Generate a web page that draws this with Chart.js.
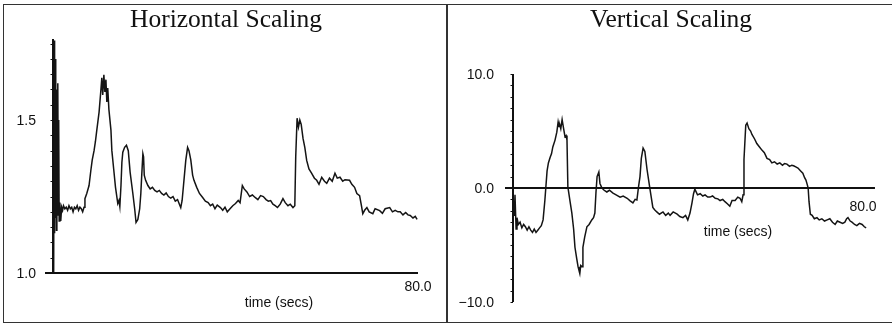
<!DOCTYPE html>
<html>
<head>
<meta charset="utf-8">
<script src="https://cdn.jsdelivr.net/npm/chart.js@4.4.1/dist/chart.umd.min.js"></script>
<style>
  html, body { margin: 0; padding: 0; background: #fff; }
  body { width: 892px; height: 326px; position: relative; overflow: hidden; }
  .frame { position: absolute; left: 3px; top: 4px; width: 889px; height: 317px;
           border-top: 1.5px solid #333; border-left: 1.5px solid #333; border-bottom: 1.5px solid #333; }
  .divider { position: absolute; left: 446px; top: 4px; width: 1.5px; height: 319px; background: #333; }
  canvas { position: absolute; top: 0; }
  #left { left: 0; }
  #right { left: 447px; }
</style>
</head>
<body>
<div class="frame"></div>
<div class="divider"></div>
<canvas id="left" width="447" height="326"></canvas>
<canvas id="right" width="445" height="326"></canvas>
<script>
// horizontal scaling trace (time in secs, scale factor)
const leftTime = [
  0.15, 0.25, 0.35, 0.45, 0.55, 0.65, 0.75, 0.85, 0.95, 1.05,
  1.15, 1.25, 1.35, 1.5, 1.7, 1.9, 2.1, 2.3, 2.6, 2.9,
  3.2, 3.5, 3.8, 4.1, 4.4, 4.7, 5.0, 5.3, 5.6, 5.9,
  6.2, 6.5, 6.8, 7.0, 7.4, 7.9, 8.3, 8.6, 9.0, 9.3,
  9.6, 10.1, 10.5, 10.7, 10.9, 11.15, 11.37, 11.6, 11.8, 12.0,
  12.25, 12.7, 12.9, 13.3, 13.7, 14.2, 14.45, 14.65, 14.9, 15.1,
  15.3, 15.7, 16.1, 16.5, 16.9, 17.5, 17.9, 18.2, 18.6, 19.0,
  19.25, 19.45, 19.7, 19.85, 20.0, 20.3, 20.8, 21.3, 21.8, 22.3,
  22.8, 23.3, 23.8, 24.3, 24.8, 25.3, 25.8, 26.3, 26.8, 27.3,
  27.7, 28.0, 28.3, 28.6, 29.1, 29.5, 29.8, 30.2, 30.6, 30.9,
  31.5, 32.1, 32.8, 33.4, 34.0, 34.5, 35.0, 35.5, 36.0, 36.7,
  37.2, 37.7, 38.2, 38.8, 39.4, 40.0, 40.6, 41.0, 41.5, 41.9,
  42.5, 43.1, 43.7, 44.3, 44.9, 45.5, 46.1, 46.7, 47.2, 47.7,
  48.2, 48.7, 49.2, 49.8, 50.4, 50.9, 51.5, 52.0, 52.6, 53.0,
  53.2, 53.5, 53.8, 54.1, 54.4, 54.8, 55.2, 55.6, 56.1, 56.7,
  57.3, 57.8, 58.3, 58.9, 59.5, 60.0, 60.6, 61.2, 61.8, 62.3,
  62.9, 63.5, 64.0, 65.0, 65.5, 66.1, 66.6, 67.2, 67.6, 67.9,
  68.3, 68.8, 69.3, 70.1, 70.6, 71.6, 72.2, 72.8, 73.8, 74.4,
  75.0, 75.6, 76.1, 76.7, 77.3, 77.8, 78.3, 78.9, 79.4, 79.8
];
const leftValue = [
  1.00, 1.76, 1.13, 1.70, 1.18, 1.52, 1.14, 1.60, 1.19, 1.62,
  1.22, 1.50, 1.17, 1.23, 1.17, 1.215, 1.205, 1.22, 1.21, 1.215,
  1.205, 1.22, 1.21, 1.215, 1.20, 1.215, 1.21, 1.22, 1.205, 1.215,
  1.21, 1.20, 1.215, 1.243, 1.26, 1.286, 1.336, 1.37, 1.40, 1.43,
  1.467, 1.526, 1.599, 1.638, 1.582, 1.648, 1.592, 1.632, 1.559, 1.605,
  1.535, 1.467, 1.40, 1.34, 1.28, 1.227, 1.237, 1.217, 1.286, 1.362,
  1.395, 1.411, 1.418, 1.40, 1.33, 1.26, 1.21, 1.165, 1.175, 1.21,
  1.26, 1.32, 1.39, 1.38, 1.32, 1.303, 1.286, 1.275, 1.28, 1.27,
  1.265, 1.27, 1.26, 1.255, 1.262, 1.25, 1.245, 1.25, 1.235, 1.24,
  1.225, 1.214, 1.237, 1.286, 1.368, 1.411, 1.40, 1.37, 1.32, 1.303,
  1.28, 1.26, 1.247, 1.235, 1.23, 1.22, 1.225, 1.21, 1.222, 1.214,
  1.205, 1.215, 1.20, 1.21, 1.22, 1.227, 1.237, 1.23, 1.286, 1.275,
  1.265, 1.25, 1.255, 1.247, 1.24, 1.253, 1.25, 1.24, 1.235, 1.237,
  1.225, 1.22, 1.214, 1.225, 1.243, 1.23, 1.22, 1.225, 1.214, 1.22,
  1.38, 1.506, 1.477, 1.50, 1.486, 1.44, 1.41, 1.368, 1.34, 1.326,
  1.31, 1.303, 1.29, 1.313, 1.30, 1.293, 1.31, 1.30, 1.326, 1.31,
  1.313, 1.30, 1.305, 1.303, 1.29, 1.28, 1.26, 1.253, 1.22, 1.194,
  1.205, 1.214, 1.20, 1.194, 1.21, 1.204, 1.195, 1.21, 1.214, 1.20,
  1.205, 1.20, 1.20, 1.19, 1.198, 1.19, 1.188, 1.18, 1.185, 1.175
];

// vertical scaling trace
const rightTime = [
  0.0, 0.23, 0.45, 0.7, 0.9, 1.2, 1.6, 2.0, 2.4, 2.8,
  3.2, 3.6, 4.0, 4.4, 4.8, 5.2, 5.6, 6.0, 6.4, 6.8,
  7.2, 7.7, 8.0, 8.4, 8.7, 9.0, 9.5, 9.9, 10.2, 10.4,
  10.6, 10.8, 11.1, 11.4, 11.75, 12.0, 12.2, 12.4, 12.9, 13.3,
  13.7, 14.0, 14.4, 14.7, 14.9, 15.1, 15.3, 15.6, 15.8, 16.2,
  16.7, 17.2, 17.8, 18.2, 18.5, 18.75, 19.0, 19.4, 19.65, 20.1,
  20.6, 21.2, 21.8, 22.6, 23.3, 24.2, 24.9, 25.8, 26.4, 27.1,
  27.6, 28.0, 28.4, 28.7, 29.0, 29.4, 29.8, 30.3, 31.0, 31.6,
  32.0, 32.5, 33.1, 33.9, 34.5, 35.1, 35.5, 36.2, 37.1, 37.7,
  38.4, 39.0, 39.5, 40.0, 40.45, 40.8, 41.1, 41.7, 42.3, 42.9,
  43.4, 44.0, 44.5, 45.1, 45.7, 46.3, 46.8, 47.4, 47.9, 48.5,
  49.0, 49.5, 50.2, 50.8, 51.3, 51.7, 52.0, 52.2, 52.6, 52.9,
  53.3, 53.7, 54.0, 54.6, 55.1, 55.7, 56.3, 56.8, 57.4, 58.0,
  58.5, 59.1, 59.7, 60.3, 60.9, 61.4, 61.9, 62.5, 63.0, 63.4,
  63.9, 64.4, 65.0, 65.5, 65.9, 66.2, 66.5, 66.7, 66.9, 67.2,
  67.6, 68.1, 68.7, 69.2, 69.8, 70.4, 71.0, 71.6, 72.2, 72.8,
  73.3, 73.9, 74.5, 75.0, 75.4, 75.7, 76.2, 76.6, 77.2, 77.7,
  78.3, 78.9, 79.4, 79.8
];
const rightValue = [
  0.0, -2.4, -0.6, -3.6, -2.6, -3.2, -3.0, -3.5, -3.2, -3.4,
  -3.7, -3.4, -3.7, -3.9, -3.6, -3.9, -3.7, -3.5, -3.3, -2.8,
  -1.1, 1.5, 2.2, 2.7, 3.0, 3.6, 4.2, 4.9, 5.8, 5.4,
  5.5, 5.2, 6.0, 5.3, 4.5, 4.6, 4.2, 0.1, -1.2, -2.2,
  -3.6, -5.2, -6.2, -6.9, -7.2, -7.5, -6.8, -6.9, -5.2, -4.3,
  -3.4, -3.2, -2.8, -2.6, -2.2, -0.4, 1.0, 1.4, 0.4, 0.0,
  -0.2, -0.35, -0.2, -0.45, -0.6, -0.8, -0.7, -0.9, -1.1, -1.3,
  -1.0, -1.05, 0.2, 1.0, 2.6, 3.5, 3.2, 1.6, -0.2, -1.7,
  -1.9, -2.1, -2.3, -2.1, -2.4, -2.2, -2.4, -2.1, -2.3, -2.5,
  -2.6, -2.4, -2.8, -2.2, -1.3, -0.5, -0.1, -0.6, -0.5, -0.7,
  -0.6, -0.8, -0.8, -0.7, -0.9, -0.95, -1.1, -1.0, -1.2, -1.4,
  -1.6, -1.1, -1.1, -0.8, -0.9, -1.2, -0.6, 2.5, 5.5, 5.7,
  5.2, 5.0, 4.7, 4.3, 3.9, 3.6, 3.3, 3.1, 2.6, 2.5,
  2.2, 2.3, 2.1, 2.2, 2.0, 2.15, 2.1, 1.9, 2.0, 1.95,
  1.85, 1.75, 1.5, 1.3, 0.9, 0.7, 0.3, 0.0, -1.2, -2.3,
  -2.4, -2.7, -2.6, -2.8, -2.7, -2.9, -2.8, -2.7, -3.0, -3.2,
  -2.9, -3.0, -3.1, -3.0, -2.7, -2.6, -2.9, -3.0, -3.2, -3.3,
  -3.1, -3.2, -3.4, -3.5
];

const leftYTicks = [1.0, 1.5];
const rightYTicks = [10.0, 0.0, -10.0];
const xTicks = [80.0];

function points(ts, vs) {
  return ts.map((t, i) => ({ x: t, y: vs[i] }));
}

// draws the plain axes, labels and the panel title on top of the trace
const sketchAxes = {
  id: 'sketchAxes',
  afterDatasetsDraw(chart, args, o) {
    const ctx = chart.ctx;
    const xs = chart.scales.x, ys = chart.scales.y;
    const x0 = xs.getPixelForValue(0);
    const yb = ys.getPixelForValue(o.xAxisAt);
    ctx.save();
    ctx.strokeStyle = '#111';
    ctx.lineWidth = 2;
    ctx.beginPath();
    ctx.moveTo(x0, ys.getPixelForValue(ys.min));
    ctx.lineTo(x0, ys.getPixelForValue(ys.max));
    ctx.stroke();
    ctx.beginPath();
    ctx.moveTo(x0 - 8, yb);
    ctx.lineTo(xs.getPixelForValue(o.xAxisEnd), yb);
    ctx.stroke();

    // little tick marks down the y axis
    ctx.lineWidth = 1;
    for (let v = ys.min; v <= ys.max + 1e-9; v += o.minorStep) {
      const py = Math.round(ys.getPixelForValue(v)) + 0.5;
      ctx.beginPath();
      ctx.moveTo(x0 - 2.5, py);
      ctx.lineTo(x0, py);
      ctx.stroke();
    }

    ctx.fillStyle = '#111';
    ctx.font = '14px "Liberation Sans", Arial, sans-serif';
    ctx.textAlign = 'right';
    ctx.textBaseline = 'middle';
    o.yTicks.forEach(v => {
      ctx.fillText(v.toFixed(1).replace('-', '\u2212'), x0 - o.yLabelGap, ys.getPixelForValue(v) + 1);
    });
    ctx.textAlign = 'center';
    o.xTicks.forEach(v => {
      ctx.fillText(v.toFixed(1), xs.getPixelForValue(v) + o.xLabelDx, yb + o.xLabelGap);
    });
    ctx.fillText('time (secs)', o.xTitleX, o.xTitleY);

    ctx.font = '25.5px "Liberation Serif", "Times New Roman", serif';
    ctx.textBaseline = 'alphabetic';
    ctx.fillText(o.title, o.titleX, o.titleY);
    ctx.restore();
  }
};

function makeChart(id, ts, vs, yMin, yMax, padding, axes) {
  return new Chart(document.getElementById(id), {
    type: 'line',
    data: {
      datasets: [{
        data: points(ts, vs),
        borderColor: '#141414',
        borderWidth: 1.5,
        pointRadius: 0,
        tension: 0,
        fill: false
      }]
    },
    options: {
      responsive: false,
      animation: false,
      layout: { padding: padding },
      scales: {
        x: { type: 'linear', display: false, min: 0, max: 80 },
        y: { display: false, min: yMin, max: yMax }
      },
      plugins: {
        legend: { display: false },
        tooltip: { enabled: false },
        sketchAxes: axes
      }
    },
    plugins: [sketchAxes]
  });
}

makeChart('left', leftTime, leftValue, 1.0, 1.765,
  { left: 53, right: 29, top: 39, bottom: 53 },
  {
    title: 'Horizontal Scaling', titleX: 226, titleY: 27,
    xAxisAt: 1.0, xAxisEnd: 80, minorStep: 0.05,
    yTicks: leftYTicks, yLabelGap: 17,
    xTicks: xTicks, xLabelDx: 0, xLabelGap: 14,
    xTitleX: 279, xTitleY: 303
  });

makeChart('right', rightTime, rightValue, -10, 10,
  { left: 66, right: 25, top: 74, bottom: 24 },
  {
    title: 'Vertical Scaling', titleX: 224, titleY: 27,
    xAxisAt: 0, xAxisEnd: 81.8, minorStep: 1,
    yTicks: rightYTicks, yLabelGap: 19,
    xTicks: xTicks, xLabelDx: -4, xLabelGap: 19,
    xTitleX: 291, xTitleY: 232
  });
</script>
</body>
</html>
